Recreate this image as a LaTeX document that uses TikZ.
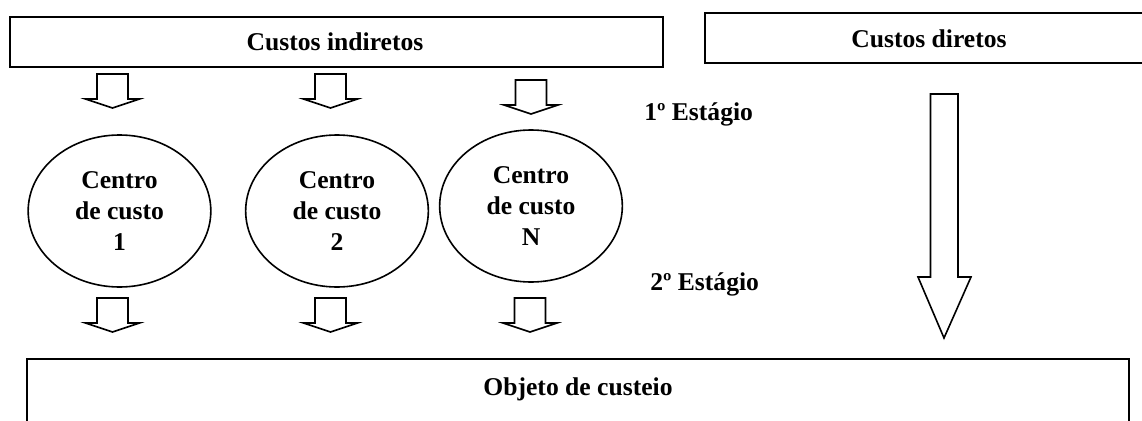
\documentclass[tikz,border=0pt]{standalone}
\usepackage{fontspec}
\setmainfont{Liberation Serif}
\usetikzlibrary{shapes.geometric}
\tikzset{
  frameline/.style={line width=1.3pt,black,line join=miter},
  label/.style={font=\fontsize{19.2}{23}\selectfont\bfseries,anchor=base,inner sep=0pt},
  costbox/.style={draw,frameline,rectangle,anchor=north west,inner sep=0pt},
  center/.style={draw,line width=1.2pt,ellipse,inner sep=0pt,minimum width=137pt,minimum height=114pt,
    align=center,font=\fontsize{19.2}{22.9}\selectfont\bfseries},
  smallarrow/.pic={\draw[line width=1.2pt,line join=miter,miter limit=20,fill=white]
    (-15.5,0)--(15.5,0)--(15.5,25)--(27,25)--(0,34)--(-27,25)--(-15.5,25)--cycle;}
}
\begin{document}
\begin{tikzpicture}[x=0.75pt,y=-0.75pt]
\useasboundingbox (0,0) rectangle (1142,421);
% top boxes
\node[costbox,minimum width=489.75pt,minimum height=37.5pt] (indiretos) at (9,16) {};
\node[label] (tindiretos) at (335,50) {Custos indiretos};
\coordinate (dtr) at (1142,13);
\coordinate (dtl) at (705,13);
\coordinate (dbl) at (705,63);
\coordinate (dbr) at (1142,63);
\draw[frameline] (dtr)--(dtl)--(dbl)--(dbr);
\node[label] (diretos) at (929,47) {Custos diretos};
% cost centres
\node[center] (c1) at (119.5,211) {Centro\\de custo\\1};
\node[center] (c2) at (337,211) {Centro\\de custo\\2};
\node[center] (c3) at (531,206) {Centro\\de custo\\N};
% arrows first stage
\pic at (112.5,74) {smallarrow};
\pic at (330.5,74) {smallarrow};
\pic at (531,80) {smallarrow};
% arrows second stage
\pic at (112.5,298) {smallarrow};
\pic at (330.5,298) {smallarrow};
\pic at (530,298) {smallarrow};
% large direct cost arrow
\draw[line width=1.2pt,line join=miter,miter limit=20,fill=white]
  (930.5,94)--(958,94)--(958,277)--(971,277)--(944,338)--(918,277)--(930.5,277)--cycle;
% stage labels
\node[label,anchor=base west] (e1) at (644,120.5) {1º Estágio};
\node[label,anchor=base west] (e2) at (650,290) {2º Estágio};
% bottom box
\coordinate (obl) at (27,421);
\coordinate (otl) at (27,359);
\coordinate (otr) at (1129,359);
\coordinate (obr) at (1129,421);
\draw[frameline] (obl)--(otl)--(otr)--(obr);
\node[label] (objeto) at (578,395) {Objeto de custeio};
\end{tikzpicture}
\end{document}
